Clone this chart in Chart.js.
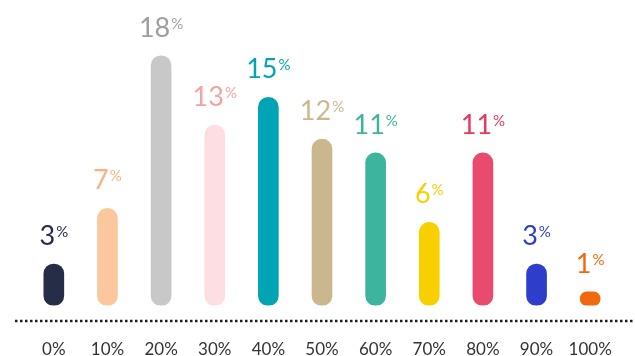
<!DOCTYPE html>
<html>
<head>
<meta charset="utf-8">
<script src="https://cdn.jsdelivr.net/npm/chart.js@4/dist/chart.umd.min.js"></script>
<style>
  html, body { margin: 0; padding: 0; background: #fff; }
  #wrap { width: 635px; height: 356px; }
</style>
</head>
<body>
<div id="wrap"><canvas id="chart"></canvas></div>
<script>
// categories and values
const labels = ["0%", "10%", "20%", "30%", "40%", "50%", "60%", "70%", "80%", "90%", "100%"];
const values = [3, 7, 18, 13, 15, 12, 11, 6, 11, 3, 1];
const barColors = ["#252d47", "#fbc89d", "#c8c8c8", "#fddfe1", "#00a4b5", "#cbb78e",
                   "#3db59e", "#f8d000", "#e94b6e", "#2e3ecb", "#f0690f"];
const labelColors = ["#252d47", "#f9b27c", "#9e9e9e", "#f4a3a5", "#00a4b5", "#cbb78e",
                     "#3db59e", "#f8d000", "#e8365b", "#2e3ecb", "#f0690f"];

const FONT = "Lato, 'Open Sans', sans-serif";

// value label above each bar: big number + small raised "%"
const valueLabels = {
  id: "valueLabels",
  afterDatasetsDraw(chart) {
    const ctx = chart.ctx;
    const meta = chart.getDatasetMeta(0);
    ctx.save();
    ctx.textBaseline = "alphabetic";
    ctx.textAlign = "left";
    meta.data.forEach((bar, i) => {
      const num = String(values[i]);
      ctx.font = "27px " + FONT;
      const wNum = ctx.measureText(num).width;
      ctx.font = "15px " + FONT;
      const wPct = ctx.measureText("%").width;
      const x0 = bar.x - (wNum + 1 + wPct) / 2;
      const base = bar.y - 19;
      ctx.fillStyle = labelColors[i];
      ctx.font = "27px " + FONT;
      ctx.fillText(num, x0, base);
      ctx.font = "15px " + FONT;
      ctx.fillText("%", x0 + wNum + 1, base - 8);
    });
    ctx.restore();
  }
};

// dotted base line under the bars
const dottedLine = {
  id: "dottedLine",
  afterDraw(chart) {
    const ctx = chart.ctx;
    ctx.save();
    ctx.strokeStyle = "#1e1e1e";
    ctx.lineWidth = 2.5;
    ctx.setLineDash([2.5, 2.5]);
    ctx.beginPath();
    ctx.moveTo(15, 321);
    ctx.lineTo(633, 321);
    ctx.stroke();
    ctx.restore();
  }
};

new Chart(document.getElementById("chart"), {
  type: "bar",
  data: {
    labels: labels,
    datasets: [{
      data: values,
      backgroundColor: barColors,
      borderRadius: 10,
      borderSkipped: false,
      barThickness: 20,
      categoryPercentage: 1,
      barPercentage: 1
    }]
  },
  options: {
    responsive: true,
    maintainAspectRatio: false,
    animation: false,
    layout: { padding: { top: 28, left: 27, right: 18, bottom: -38 } },
    plugins: { legend: { display: false }, tooltip: { enabled: false } },
    scales: {
      x: {
        grid: { display: false, drawTicks: false },
        border: { display: false },
        ticks: {
          color: "#333", padding: 34, maxRotation: 0, minRotation: 0, autoSkip: false,
          font: { family: FONT, size: 17 }
        },
        afterFit(scale) {
          // keep plot edges where the layout padding puts them
          scale.paddingLeft = 0;
          scale.paddingRight = 0;
        }
      },
      y: { display: false, min: 0, max: 20 }
    }
  },
  plugins: [valueLabels, dottedLine]
});
</script>
</body>
</html>
